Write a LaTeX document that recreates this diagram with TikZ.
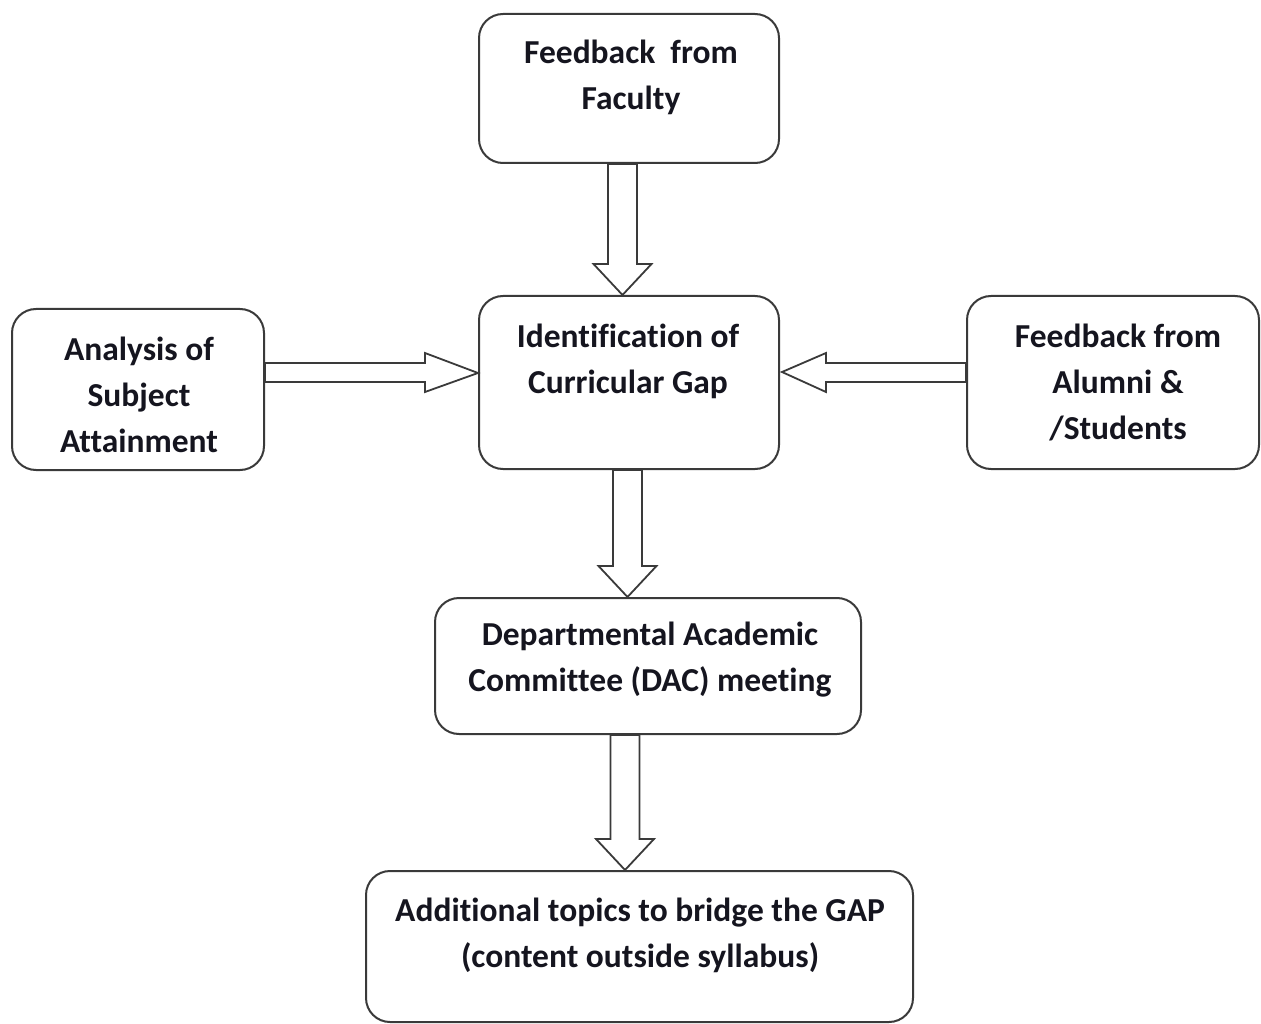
\documentclass[tikz,border=0pt]{standalone}
\usepackage{fontspec}
\setmainfont[Ligatures=NoCommon]{Carlito}
\usetikzlibrary{calc}
\definecolor{edge}{HTML}{3A3A3A}
\definecolor{ink}{HTML}{15151F}
\tikzset{
  box/.style={draw=edge, line width=2pt, rounded corners=24pt, fill=white, inner sep=0pt},
  txt/.style={align=center, text=ink, font=\fontsize{33.5}{46}\selectfont\bfseries, inner sep=0pt},
  harrow/.style={draw=edge, line width=1.8pt, fill=white, line join=miter}
}
% vertical hollow arrow: #1 x centre, #2 start anchor, #3 end anchor
\newcommand\vhollow[3]{%
  \draw[harrow] let \p1=(#2), \p2=(#3) in
    (#1pt-14.5pt,\y1) -- (#1pt-14.5pt,\y2+31pt) -- (#1pt-29pt,\y2+31pt) -- (#1pt,\y2)
    -- (#1pt+29pt,\y2+31pt) -- (#1pt+14.5pt,\y2+31pt) -- (#1pt+14.5pt,\y1) -- cycle;}
\begin{document}
\begin{tikzpicture}[x=1pt,y=-1pt]
\useasboundingbox (0,0) rectangle (1261,1024);
% boxes
\node[box, minimum width=300pt, minimum height=149pt] (fac) at (629,88.5) {};
\node[box, minimum width=300pt, minimum height=173pt] (gap) at (629,382.5) {};
\node[box, minimum width=252pt, minimum height=161pt] (ana) at (138,389.5) {};
\node[box, minimum width=292pt, minimum height=173pt] (alu) at (1113,382.5) {};
\node[box, minimum width=426pt, minimum height=136pt] (dac) at (648,666) {};
\node[box, minimum width=547pt, minimum height=151pt] (add) at (639.5,946.5) {};
% texts
\node[txt] (tfac) at (631,77.5) {Feedback\ \ from\\Faculty};
\node[txt] (tgap) at (628,361) {Identification of\\Curricular Gap};
\node[txt] (tana) at (139,394.5) {Analysis of\\Subject\\Attainment};
\node[txt] (talu) at (1118,383) {Feedback from\\Alumni \&\\/Students};
\node[txt] (tdac) at (650,660) {Departmental Academic\\Committee (DAC) meeting};
\node[txt] (tadd) at (640,935) {Additional topics to bridge the GAP\\(content outside syllabus)};
% vertical arrows
\vhollow{622.5}{fac.south}{gap.north}
\vhollow{627.5}{gap.south}{dac.north}
\vhollow{625}{dac.south}{add.north}
% left horizontal arrow
\draw[harrow] let \p1=(ana.east), \p2=(gap.west) in
  (\x1,-363pt) -- (\x2-53pt,-363pt) -- (\x2-53pt,-353pt) -- (\x2,-373pt)
  -- (\x2-53pt,-392pt) -- (\x2-53pt,-382pt) -- (\x1,-382pt) -- cycle;
% right horizontal arrow
\draw[harrow] let \p1=(alu.west), \p2=(gap.east) in
  (\x1,-363pt) -- (\x2+46pt,-363pt) -- (\x2+46pt,-353pt) -- (\x2+2pt,-372pt)
  -- (\x2+46pt,-392pt) -- (\x2+46pt,-382pt) -- (\x1,-382pt) -- cycle;
\end{tikzpicture}
\end{document}
